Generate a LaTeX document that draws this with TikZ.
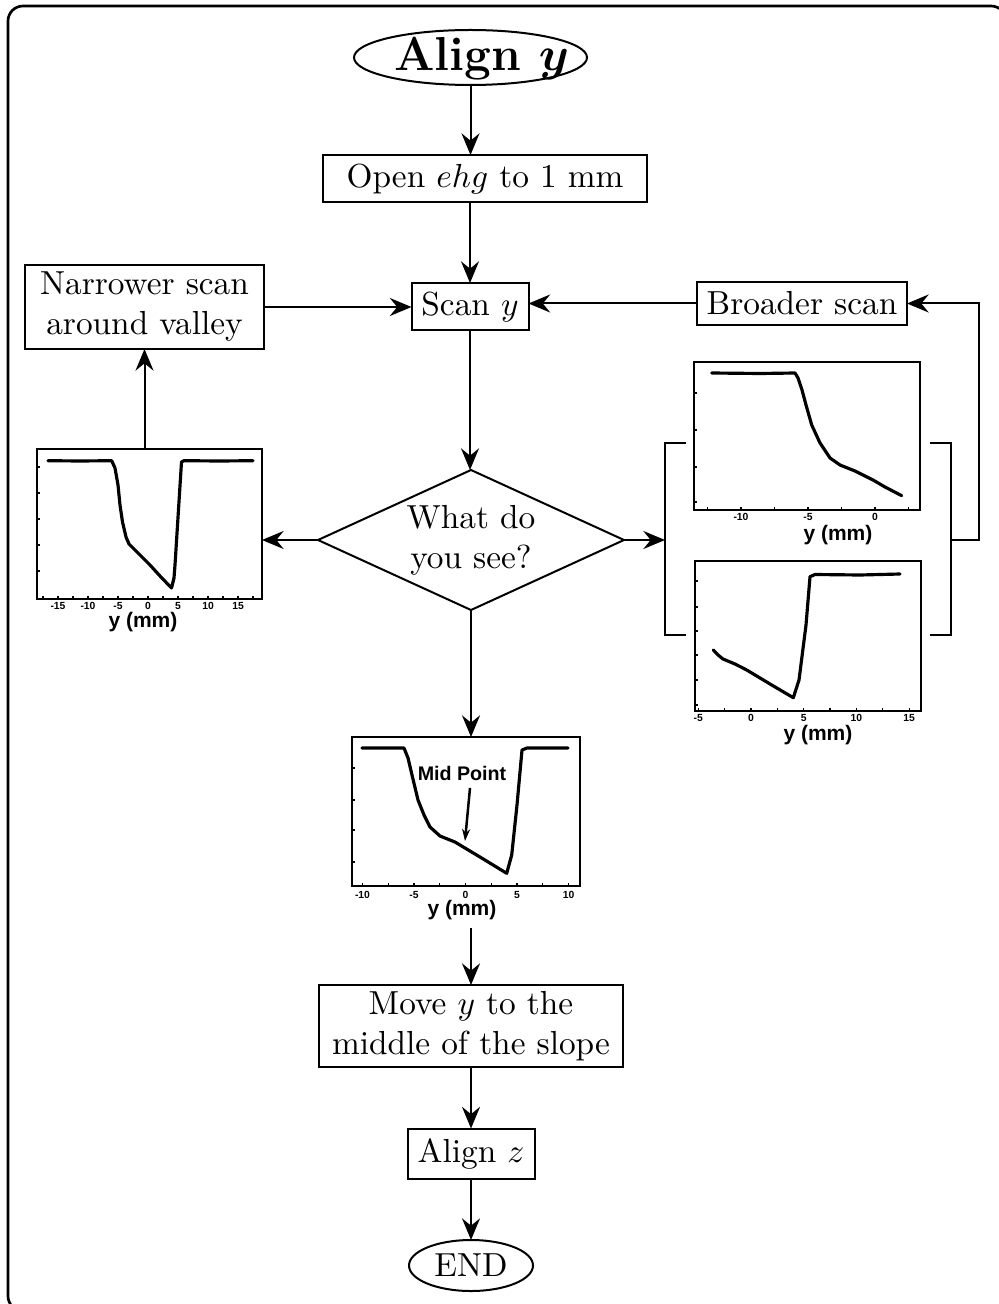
\documentclass[tikz,border=0pt]{standalone}
\usepackage{fontspec}
\newfontfamily\plotfont{Liberation Sans}
\usetikzlibrary{arrows.meta,shapes.geometric}

\tikzset{
  txt/.style={font=\fontsize{10}{12}\selectfont, align=center},
  box/.style={txt, draw, line width=0.6pt, inner sep=0pt, outer sep=0pt},
  oval/.style={box, ellipse},
  decision/.style={box, diamond, aspect=2.19},
  arr/.style={line width=0.6pt, -{Stealth[length=6.5pt,width=5.4pt,inset=2.2pt]}},
  plotframe/.style={draw, line width=0.45pt, inner sep=0pt, outer sep=0pt},
  curve/.style={line width=0.95pt, line join=round, line cap=round},
  tk/.style={line width=0.35pt},
  ticklab/.style={font=\plotfont\bfseries\fontsize{3.1}{3.5}\selectfont, inner sep=0pt},
  axlab/.style={font=\plotfont\bfseries\fontsize{6.3}{7}\selectfont, inner sep=0pt},
  bracket/.style={line width=0.7pt},
}

\begin{document}
\begin{tikzpicture}[x=0.3pt,y=-0.3pt]
\useasboundingbox (0,0) rectangle (999,1304);
% outer frame
\draw[line width=0.8pt, rounded corners=4.5pt] (8,6) rectangle (1006,1311);

% flow chart nodes
\node[oval, minimum width=69.9pt, minimum height=16.5pt,
      label={[font=\fontsize{14.3}{17}\selectfont\bfseries\boldmath, inner sep=0pt, xshift=3.3pt, yshift=-0.3pt]center:Align $y$}]
      (ay) at (470.5,57.5) {};
\node[box, minimum width=97.2pt, minimum height=14.1pt] (op) at (485,178.5) {Open $ehg$ to 1 mm};
\node[box, minimum width=35.1pt, minimum height=14.1pt] (sc) at (470,306.5) {Scan $y$};
\node[box, minimum width=71.7pt, minimum height=25.2pt] (nw) at (144.5,307) {Narrower scan\\around valley};
\node[box, minimum width=63pt, minimum height=12.9pt] (br) at (802,303.5) {Broader scan};
\node[decision, minimum width=91.8pt, minimum height=42pt] (dq) at (471,540) {What do\\you see?};
\node[box, minimum width=91.2pt, minimum height=24.6pt] (mv) at (471,1026) {Move $y$ to the\\middle of the slope};
\node[box, minimum width=38.1pt, minimum height=15pt] (az) at (471,1153.5) {Align $z$};
\node[oval, minimum width=37.2pt, minimum height=15.3pt,
      label={[txt, inner sep=0pt]center:END}] (en) at (471,1265.5) {};

% plot frames
\node[plotframe, minimum width=67.5pt, minimum height=45pt] (pl) at (149.5,524) {};
\node[plotframe, minimum width=67.8pt, minimum height=44.4pt] (pa) at (807,436) {};
\node[plotframe, minimum width=67.8pt, minimum height=45pt] (pb) at (808,636) {};
\node[plotframe, minimum width=68.4pt, minimum height=44.7pt] (pm) at (466,811.5) {};

% valley scan (left)
\foreach \v in {-17.5,-15,...,17.6} \draw[tk] ({148+6*\v},599) -- ++(0,-3);
\foreach \yy in {467,493,519,545,571} \draw[tk] (37,\yy) -- ++(3,0);
\foreach \v in {-15,-10,-5,0,5,10,15} \node[ticklab] at ({148+6*\v},606) {\v};
\node[axlab] (pllab) at (143,622) {y (mm)};
\draw[curve] plot coordinates {(48,460.7) (80,461) (111.7,460.7) (115,468) (118,485) (120,505)
  (122.5,522) (126,537) (129,544) (135,550) (141,556) (150,565) (160,576) (171.5,588)
  (174,578) (175,565) (181.5,462) (184,460.7) (220,461) (253,460.7)};

% one-sided scan (upper right)
\foreach \v in {-12.5,-10,...,2.6} \draw[tk] ({875+13.4*\v},510) -- ++(0,-3);
\foreach \yy in {393,430,467,502} \draw[tk] (694,\yy) -- ++(3,0);
\foreach \v in {-10,-5,0} \node[ticklab] at ({875+13.4*\v},517) {\v};
\node[axlab] (palab) at (838,535) {y (mm)};
\draw[curve] plot coordinates {(711.7,373) (760,373.5) (795,373) (798,378) (802,390) (806,405)
  (811.7,425) (820,443) (830,458) (840,465) (855,471) (873,480) (885,487) (901.7,495.7)};

% one-sided scan (lower right)
\foreach \v in {-5,-2.5,...,15.1} \draw[tk] ({751+10.54*\v},711) -- ++(0,-3);
\foreach \yy in {581,607,631,655,680,705} \draw[tk] (695,\yy) -- ++(3,0);
\foreach \v in {-5,0,5,10,15} \node[ticklab] at ({751+10.54*\v},718) {\v};
\node[axlab] (pblab) at (818,735) {y (mm)};
\draw[curve] plot coordinates {(713.3,650) (718,655) (723,659) (735,664) (746.7,670) (770,684)
  (793.3,697.7) (799,680) (806,625) (810,576.7) (815,574.5) (860,575) (900,574)};

% centred valley (middle)
\foreach \v in {-10,-7.5,...,10.1} \draw[tk] ({465.5+10.3*\v},886) -- ++(0,-3);
\foreach \yy in {768,800,830,862} \draw[tk] (352,\yy) -- ++(3,0);
\foreach \v in {-10,-5,0,5,10} \node[ticklab] at ({465.5+10.3*\v},895) {\v};
\node[axlab] (pmlab) at (462,910) {y (mm)};
\draw[curve] plot coordinates {(362,748) (404,748) (408,758) (412,775) (418,800) (424,815)
  (430,827) (440,836) (455,842) (480,857) (506.7,873.3) (511.7,855) (517,805) (522,750)
  (527,748) (568,748)};
\node[axlab, font=\plotfont\bfseries\fontsize{5.9}{7}\selectfont] (mid) at (462,773) {Mid Point};
\coordinate (midtip) at (465,841);
\draw[line width=0.75pt, -{Stealth[length=3.6pt,width=2.4pt]}] ([shift={(8,7)}]mid.south) -- (midtip);

% brackets grouping the one-sided scans
\coordinate (lb) at (665,540);
\coordinate (rb) at (951,540);
\coordinate (rt) at (979,540);
\draw[bracket] (686,443) -- (665,443) -- (665,635) -- (686,635);
\draw[bracket] (930,443) -- (951,443) -- (951,635) -- (930,635);

% connectors
\draw[arr] (ay.south) -- (ay.south |- op.north);
\draw[arr] (op.south -| sc.north) -- (sc.north);
\draw[arr] (nw.east) -- (nw.east -| sc.west);
\draw[arr] (br.west) -- (br.west -| sc.east);
\draw[arr] (sc.south) -- (sc.south |- dq.north);
\draw[arr] (dq.west) -- (dq.west -| pl.east);
\draw[arr] (dq.east) -- (lb);
\draw[arr] (pl.north -| nw.south) -- (nw.south);
\draw[arr] (rb) -- (rt) |- (br.east);
\draw[arr] (dq.south) -- (dq.south |- pm.north);
\draw[arr] ([yshift=-2.4pt]pmlab.south -| mv.north) -- (mv.north);
\draw[arr] (mv.south) -- (az.north);
\draw[arr] (az.south) -- (en.north);
\end{tikzpicture}
\end{document}
